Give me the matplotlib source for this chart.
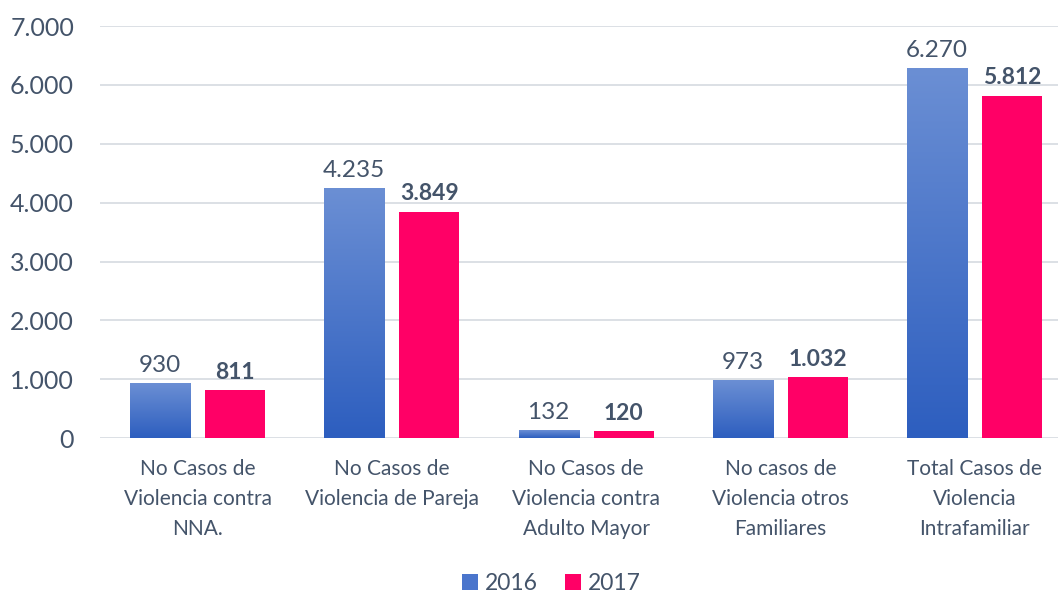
import numpy as np
import matplotlib.pyplot as plt
import matplotlib.patches as mpatches
from matplotlib.colors import LinearSegmentedColormap

plt.rcParams['font.family'] = ['Lato', 'DejaVu Sans']

categories = [
    "No Casos de\nViolencia contra\nNNA.",
    "No Casos de\nViolencia de Pareja",
    "No Casos de\nViolencia contra\nAdulto Mayor",
    "No casos de\nViolencia otros\nFamiliares",
    "Total Casos de\nViolencia\nIntrafamiliar",
]
values_2016 = [930, 4235, 132, 973, 6270]
values_2017 = [811, 3849, 120, 1032, 5812]
series_names = ["2016", "2017"]

TEXT = '#44546a'
PINK = '#ff0066'
blue_grad = LinearSegmentedColormap.from_list('bg', ['#2d5ebf', '#6b8fd4'])


def fmt(v):
    return f"{v:,}".replace(",", ".")


fig = plt.figure(figsize=(10.58, 5.93), dpi=100)
# right edge slightly past the figure, as in the source image
ax = fig.add_axes([0.0949, 0.261, 0.918, 0.695])

x = np.arange(len(categories))
w = 0.309
off = 0.193

grad = np.linspace(0, 1, 256).reshape(-1, 1)
for xi, v in zip(x, values_2016):
    ax.imshow(grad, cmap=blue_grad, origin='lower', aspect='auto',
              extent=(xi - off - w / 2, xi - off + w / 2, 0, v), zorder=3)
    ax.text(xi - off, v + 130, fmt(v), ha='center', va='bottom',
            fontsize=17.5, color=TEXT)

ax.bar(x + off, values_2017, width=w, color=PINK, zorder=3)
for xi, v in zip(x, values_2017):
    ax.text(xi + off, v + 130, fmt(v), ha='center', va='bottom',
            fontsize=16.5, color=TEXT, fontweight='bold')

ax.set_xlim(-0.5, len(categories) - 0.5)
ax.set_ylim(0, 7000)
ax.set_yticks(np.arange(0, 7001, 1000))
ax.set_yticklabels([fmt(t) for t in range(0, 7001, 1000)], fontsize=18, color=TEXT)
ax.set_xticks(x)
ax.set_xticklabels(categories, fontsize=15, color=TEXT, linespacing=1.62, va='top')
ax.tick_params(axis='both', length=0)
ax.tick_params(axis='x', pad=15)
ax.tick_params(axis='y', pad=19)
ax.yaxis.grid(True, color='#d9dde3', linewidth=1.3, zorder=0)
ax.set_axisbelow(True)
for s in ax.spines.values():
    s.set_visible(False)

handles = [mpatches.Patch(facecolor='#4a75cc', label=series_names[0]),
           mpatches.Patch(facecolor=PINK, label=series_names[1])]
leg = fig.legend(handles=handles, loc='lower center', bbox_to_anchor=(0.521, -0.037),
                 ncol=2, frameon=False, fontsize=16.5, handlelength=0.7,
                 handleheight=0.7, handletextpad=0.3, columnspacing=1.2)
for t in leg.get_texts():
    t.set_color(TEXT)

fig.savefig('out.png', dpi=100)
